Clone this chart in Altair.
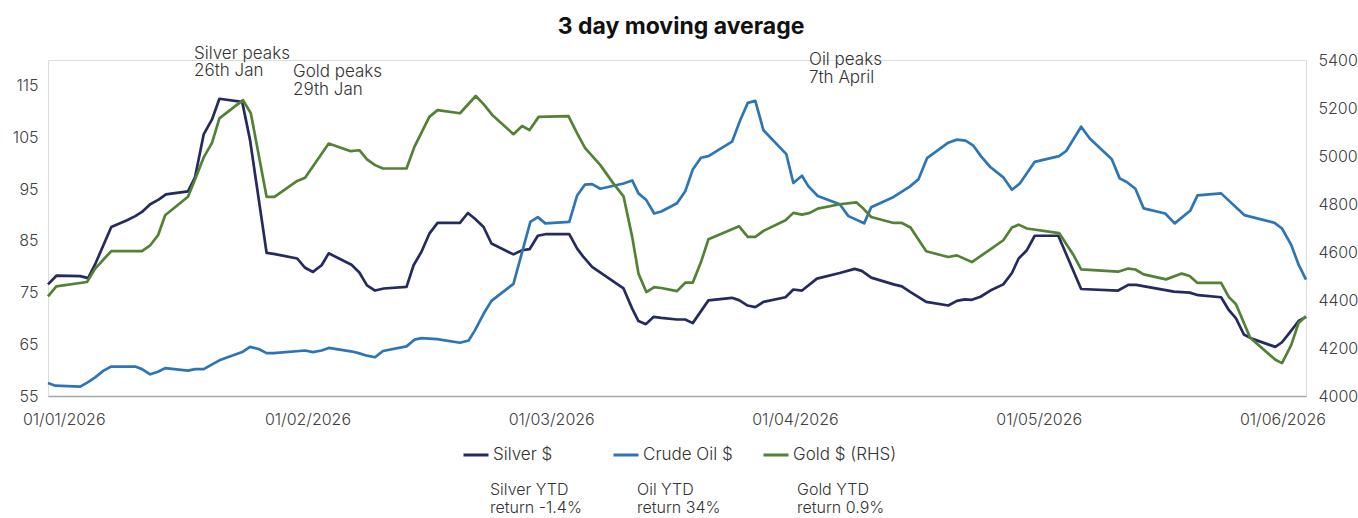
import altair as alt
import pandas as pd

# ---------------- data ----------------
# x = trading-day index; label "01/01/2026" sits at 0 and each month label is 31 further on
tick_days = [0, 31, 62, 93, 124, 155]
tick_labels = ["01/01/2026", "01/02/2026", "01/03/2026", "01/04/2026", "01/05/2026", "01/06/2026"]

silver_day = [-2.0, -0.9, 2.1, 3.1, 4.0, 6.05, 8.05, 9.1, 9.95, 11.0, 12.07, 13.0, 15.8, 16.7, 17.8, 18.86,
              19.8, 22.7, 23.7, 25.8, 26.7, 29.7, 30.7, 31.7, 32.8, 33.7, 36.6, 37.6, 38.57, 39.6, 40.7,
              43.6, 44.5, 45.5, 46.5, 47.55, 50.4, 51.4, 52.3, 53.4, 54.4, 57.2, 58.3, 59.25, 60.3, 61.25,
              64.3, 65.3, 66.1, 67.2, 71.2, 72.3, 73.1, 74.05, 75.0, 76.0, 78.0, 79.05, 80.0, 82.0, 85.0,
              85.95, 86.98, 87.96, 89.0, 91.8, 92.8, 93.9, 95.8, 98.7, 100.6, 101.5, 102.7, 105.55, 106.6,
              107.7, 109.7, 112.5, 113.6, 114.6, 115.5, 116.6, 117.85, 119.5, 120.6, 121.45, 122.5, 123.5,
              126.5, 129.4, 134.1, 135.4, 136.4, 141.2, 143.2, 144.3, 147.2, 148.2, 149.1, 150.1, 151.1,
              154.1, 154.95, 156.0, 157.06, 158.0]
silver_val = [76.6, 78.3, 78.2, 77.8, 80.5, 87.7, 89.0, 89.8, 90.6, 92.1, 93.0, 94.0, 94.6, 97.3, 105.6, 108.5,
              112.5, 111.9, 104.5, 82.7, 82.5, 81.6, 79.8, 79.0, 80.3, 82.6, 80.4, 78.9, 76.4, 75.4, 75.8,
              76.1, 80.3, 82.9, 86.4, 88.5, 88.5, 90.4, 89.3, 87.7, 84.5, 82.4, 83.2, 83.4, 86.0, 86.3,
              86.3, 83.5, 81.9, 80.0, 75.8, 71.9, 69.5, 68.9, 70.3, 70.1, 69.8, 69.8, 69.1, 73.5, 74.0,
              73.5, 72.5, 72.2, 73.2, 74.1, 75.6, 75.4, 77.7, 78.8, 79.6, 79.2, 77.9, 76.6, 76.2,
              75.1, 73.2, 72.5, 73.4, 73.7, 73.6, 74.2, 75.4, 76.6, 78.8, 81.6, 83.2, 86.0,
              86.0, 75.7, 75.4, 76.5, 76.5, 75.2, 75.0, 74.5, 74.1, 71.6, 70.0, 66.9, 66.1,
              64.5, 65.4, 67.4, 69.5, 70.3]

oil_day = [-2.0, -1.07, 2.1, 3.1, 4.0, 5.07, 6.05, 9.1, 9.95, 11.0, 12.0, 12.9, 15.8, 16.7, 17.8, 19.8, 22.7,
           23.7, 24.8, 25.8, 26.7, 30.7, 31.7, 32.8, 33.7, 36.7, 37.6, 38.57, 39.6, 40.6, 43.6, 44.6, 45.5,
           47.5, 50.4, 51.5, 52.3, 53.4, 54.4, 57.2, 59.35, 60.3, 61.25, 64.3, 65.3, 66.3, 67.2, 68.25,
           71.2, 72.3, 73.1, 74.1, 75.1, 76.0, 78.0, 79.05, 80.0, 81.05, 82.0, 85.0, 86.05, 87.0, 87.96,
           89.0, 91.9, 92.8, 93.9, 94.7, 95.9, 98.7, 99.8, 101.8, 102.7, 105.55, 107.6, 108.7, 109.8,
           112.5, 113.6, 114.7, 115.65, 116.7, 117.85, 119.5, 120.6, 121.6, 123.5, 126.6, 127.5, 129.4,
           130.5, 133.3, 134.3, 135.2, 136.3, 137.35, 140.1, 141.3, 143.3, 144.2, 147.2, 150.15, 154.0,
           154.95, 156.1, 157.06, 158.0]
oil_val = [57.5, 57.0, 56.8, 57.7, 58.6, 59.9, 60.7, 60.7, 60.2, 59.2, 59.7, 60.4, 59.9, 60.2, 60.2, 61.9, 63.5,
           64.5, 64.1, 63.3, 63.3, 63.8, 63.5, 63.8, 64.3, 63.6, 63.25, 62.8, 62.5, 63.7, 64.6, 65.9, 66.2,
           66.0, 65.3, 65.75, 67.7, 70.9, 73.4, 76.7, 88.7, 89.6, 88.4, 88.7, 93.8, 95.9, 96.0, 95.1,
           96.1, 96.7, 94.2, 92.9, 90.3, 90.7, 92.3, 94.6, 98.8, 101.1, 101.4, 104.2, 108.4, 111.7, 112.1,
           106.4, 101.8, 96.2, 97.6, 95.6, 93.7, 92.1, 89.8, 88.4, 91.5, 93.5, 95.5, 96.9, 101.0,
           104.0, 104.6, 104.4, 103.5, 101.3, 99.3, 97.3, 94.9, 96.1, 100.3, 101.4, 102.4, 107.1,
           104.8, 100.8, 97.1, 96.4, 95.1, 91.3, 90.3, 88.4, 90.9, 93.8, 94.2, 90.0, 88.5,
           87.4, 84.3, 80.4, 77.5]

gold_day = [-2.0, -0.94, 2.96, 4.0, 6.05, 9.95, 11.0, 12.0, 12.9, 15.8, 16.7, 17.8, 18.86, 19.8, 22.8, 23.8,
            25.8, 26.8, 29.7, 30.7, 33.7, 36.5, 37.6, 38.57, 39.6, 40.6, 43.6, 44.6, 46.5, 47.55, 50.4, 52.4,
            53.4, 54.5, 57.2, 58.3, 59.25, 60.4, 64.2, 65.3, 66.3, 68.25, 69.9, 71.2, 72.3, 73.1, 74.1,
            75.1, 76.0, 78.0, 79.05, 80.0, 81.05, 82.0, 85.9, 87.0, 87.96, 89.0, 91.8, 92.8, 93.9, 94.9,
            95.9, 98.7, 100.8, 101.7, 102.7, 105.55, 106.6, 107.7, 109.7, 112.5, 113.6, 115.5, 117.85,
            119.5, 120.6, 121.45, 122.5, 126.6, 128.45, 129.4, 134.1, 135.4, 136.3, 137.35, 140.2, 142.2,
            143.2, 144.2, 147.2, 148.2, 149.1, 150.9, 154.1, 154.95, 156.1, 157.06, 158.0]
gold_val = [4415, 4457, 4475, 4531, 4604, 4604, 4628, 4670, 4753, 4830, 4902, 4994, 5055, 5157, 5233, 5178,
            4830, 4830, 4896, 4909, 5052, 5020, 5024, 4986, 4962, 4948, 4948, 5038, 5163, 5191, 5178, 5250,
            5216, 5171, 5091, 5125, 5108, 5163, 5166, 5094, 5034, 4962, 4886, 4832, 4663, 4510, 4433,
            4454, 4450, 4437, 4472, 4472, 4558, 4653, 4707, 4663, 4663, 4688, 4732, 4763, 4756, 4763,
            4781, 4799, 4807, 4781, 4746, 4721, 4721, 4702, 4603, 4579, 4586, 4558, 4611,
            4649, 4702, 4714, 4698, 4679, 4586, 4528, 4518, 4531, 4527, 4507, 4486, 4510,
            4500, 4471, 4471, 4412, 4382, 4243, 4151, 4137, 4211, 4304, 4332]

series_names = ["Silver $", "Crude Oil $", "Gold $ (RHS)"]
series_colors = ["#252a5f", "#2e75b6", "#538135"]

peak_notes = ["Silver peaks\n26th Jan", "Gold peaks\n29th Jan", "Oil peaks\n7th April"]
ytd_notes = ["Silver YTD\nreturn -1.4%", "Oil YTD\nreturn 34%", "Gold YTD\nreturn 0.9%"]

# ---------------- tables ----------------
left_df = pd.concat([
    pd.DataFrame({"day": silver_day, "value": silver_val, "series": series_names[0], "o": 0}),
    pd.DataFrame({"day": oil_day, "value": oil_val, "series": series_names[1], "o": 1}),
])
gold_df = pd.DataFrame({"day": gold_day, "gold": gold_val, "series": series_names[2]})

FONT = "Inter"
TXT = "#333333"
LBL = "#404040"
W, H = 1258, 336

label_expr = "{" + ", ".join(f"'{d}': '{l}'" for d, l in zip(tick_days, tick_labels)) + "}[datum.value]"

x_enc = alt.X("day:Q",
              scale=alt.Scale(domain=[-2, 158], nice=False, zero=False),
              axis=alt.Axis(values=tick_days, labelExpr=label_expr, title=None, grid=False, ticks=False,
                            domainColor="#a6a6a6", domainWidth=1.5, labelFontSize=16, labelFont=FONT,
                            labelFontWeight=300, labelColor=LBL, labelPadding=15, labelFlush=False))

color_enc = alt.Color("series:N",
                      scale=alt.Scale(domain=series_names, range=series_colors),
                      legend=alt.Legend(orient="none", legendX=414, legendY=381, direction="horizontal",
                                        title=None, symbolType="stroke", symbolSize=625,
                                        symbolStrokeWidth=3, labelFontSize=17, labelFont=FONT,
                                        labelFontWeight=300, labelColor=TXT, labelOffset=3,
                                        gridAlign="all", columnPadding=10))

left_lines = alt.Chart(left_df).mark_line(strokeWidth=2.7, strokeJoin="round").encode(
    x=x_enc,
    y=alt.Y("value:Q", scale=alt.Scale(domain=[55, 120], nice=False, zero=False),
            axis=alt.Axis(values=[55, 65, 75, 85, 95, 105, 115], orient="left", title=None, grid=False,
                          domain=False, ticks=False, labelFontSize=16, labelFont=FONT,
                          labelFontWeight=300, labelColor=LBL, labelPadding=10)),
    color=color_enc,
    order="day:Q",
    detail="o:N",
)

gold_line = alt.Chart(gold_df).mark_line(strokeWidth=2.7, strokeJoin="round").encode(
    x=alt.X("day:Q"),
    y=alt.Y("gold:Q", scale=alt.Scale(domain=[4000, 5400], nice=False, zero=False),
            axis=alt.Axis(values=list(range(4000, 5401, 200)), format="d", orient="right", title=None,
                          grid=False, domain=False, ticks=False, labelFontSize=16, labelFont=FONT,
                          labelFontWeight=300, labelColor=LBL, labelPadding=12)),
    color=color_enc,
    order="day:Q",
)

def note(text, px, py, size=17, lh=17):
    return alt.Chart(pd.DataFrame({"t": [text]})).mark_text(
        align="left", baseline="alphabetic", lineBreak="\n", lineHeight=lh,
        fontSize=size, font=FONT, color=TXT, fontWeight=300,
    ).encode(text="t:N", x=alt.value(px), y=alt.value(py))

notes = [
    note(peak_notes[0], 146, -1),
    note(peak_notes[1], 245, 17, lh=18),
    note(peak_notes[2], 761, 5, lh=18),
    note(ytd_notes[0], 442, 435, size=16, lh=18),
    note(ytd_notes[1], 589, 435, size=16, lh=18),
    note(ytd_notes[2], 749, 435, size=16, lh=18),
]

chart = alt.layer(left_lines, gold_line, *notes).resolve_scale(y="independent").properties(
    width=W, height=H,
    title=alt.TitleParams("3 day moving average", fontSize=23, font=FONT, fontWeight="bold",
                          color="#111111", anchor="middle", offset=6, dx=4),
    autosize=alt.AutoSizeParams(type="none"),
    padding={"left": 48, "top": 60, "right": 52, "bottom": 122},
).configure_view(stroke=None).configure(background="white")

chart.save("out.html", embed_options={"renderer": "svg", "actions": False})
